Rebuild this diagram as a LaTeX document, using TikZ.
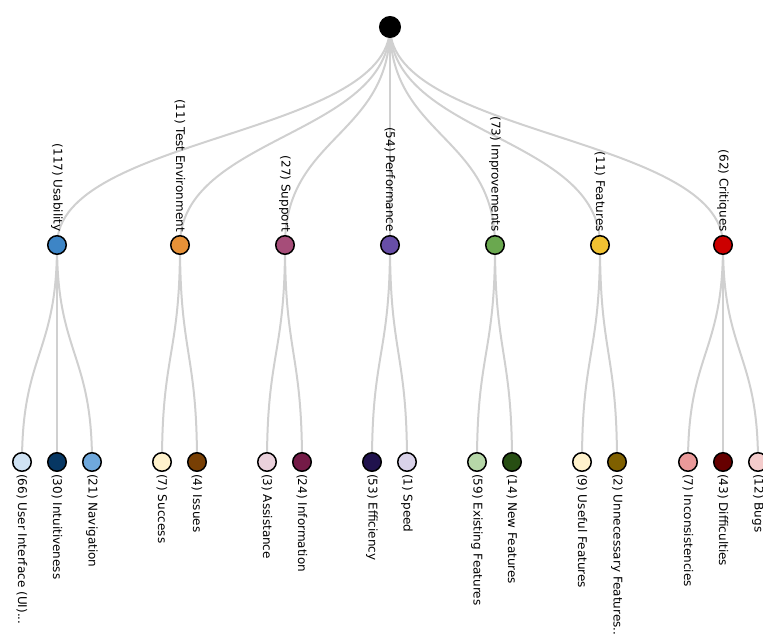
\documentclass[tikz,border=0pt]{standalone}
\usepackage{fontspec}
\setmainfont{DejaVu Sans}
\usetikzlibrary{backgrounds}

\definecolor{usab}{HTML}{3D85C6}
\definecolor{testenv}{HTML}{E69138}
\definecolor{supp}{HTML}{A64D79}
\definecolor{perf}{HTML}{674EA7}
\definecolor{impr}{HTML}{6AA84F}
\definecolor{feat}{HTML}{F1C232}
\definecolor{crit}{HTML}{CC0000}
\definecolor{ui}{HTML}{CFE2F3}
\definecolor{intu}{HTML}{073763}
\definecolor{navi}{HTML}{6FA8DC}
\definecolor{succ}{HTML}{FFF2CC}
\definecolor{issu}{HTML}{783F04}
\definecolor{assi}{HTML}{EAD1DC}
\definecolor{info}{HTML}{741B47}
\definecolor{effi}{HTML}{20124D}
\definecolor{spee}{HTML}{D9D2E9}
\definecolor{exis}{HTML}{B6D7A8}
\definecolor{newf}{HTML}{274E13}
\definecolor{usef}{HTML}{FFF2CC}
\definecolor{unne}{HTML}{7F6000}
\definecolor{inco}{HTML}{EA9999}
\definecolor{diff}{HTML}{660000}
\definecolor{bugs}{HTML}{F4CCCC}
\definecolor{edgegray}{HTML}{D0D0D0}

\begin{document}
\begin{tikzpicture}[x=1pt,y=-1pt,font=\fontsize{12}{14}\selectfont]
		\tikzstyle{topic}=[circle,draw=black,line width=1.5pt,minimum size=18.5pt,inner sep=0]
		\tikzstyle{link}=[draw=edgegray,line width=2pt]
		\clip (0,0) rectangle (763,639);

		\node[topic,fill=black,minimum size=20.5pt] (root) at (390,27) {};

		% categories
		\foreach \x/\n/\t in {57/usab/{(117) Usability},180/testenv/{(11) Test Environment},
				285/supp/{(27) Support},390/perf/{(54) Performance},495/impr/{(73) Improvements},
				600/feat/{(11) Features},723/crit/{(62) Critiques}} {
			\node[topic,fill=\n] (\n) at (\x,245) {};
			\node[rotate=-90,anchor=east,inner sep=0] (\n-label) at (\x,232) {\t};
		}

		% sub-topics
		\foreach \x/\p/\n/\t in {22/usab/ui/{(66) User Interface (UI)...},57/usab/intu/{(30) Intuitiveness},
				92/usab/navi/{(21) Navigation},162/testenv/succ/{(7) Success},197/testenv/issu/{(4) Issues},
				267/supp/assi/{(3) Assistance},302/supp/info/{(24) Information},372/perf/effi/{(53) Efficiency},
				407/perf/spee/{(1) Speed},477/impr/exis/{(59) Existing Features},512/impr/newf/{(14) New Features},
				582/feat/usef/{(9) Useful Features},617/feat/unne/{(2) Unnecessary Features..},
				688/crit/inco/{(7) Inconsistencies},723/crit/diff/{(43) Difficulties},758/crit/bugs/{(12) Bugs}} {
			\node[topic,fill=\n] (\n) at (\x,462) {};
			\node[rotate=-90,anchor=west,inner sep=0] (\n-label) at (\x,474) {\t};
			\begin{pgfonlayer}{background}
				\path[link] (\p.center) .. controls +(0,108.5) and +(0,-108.5) .. (\n.center);
			\end{pgfonlayer}
		}

		\begin{pgfonlayer}{background}
			\foreach \n in {usab,testenv,supp,perf,impr,feat,crit}
				\path[link] (root.center) .. controls +(0,109) and +(0,-109) .. (\n.center);
		\end{pgfonlayer}
	\end{tikzpicture}
\end{document}
